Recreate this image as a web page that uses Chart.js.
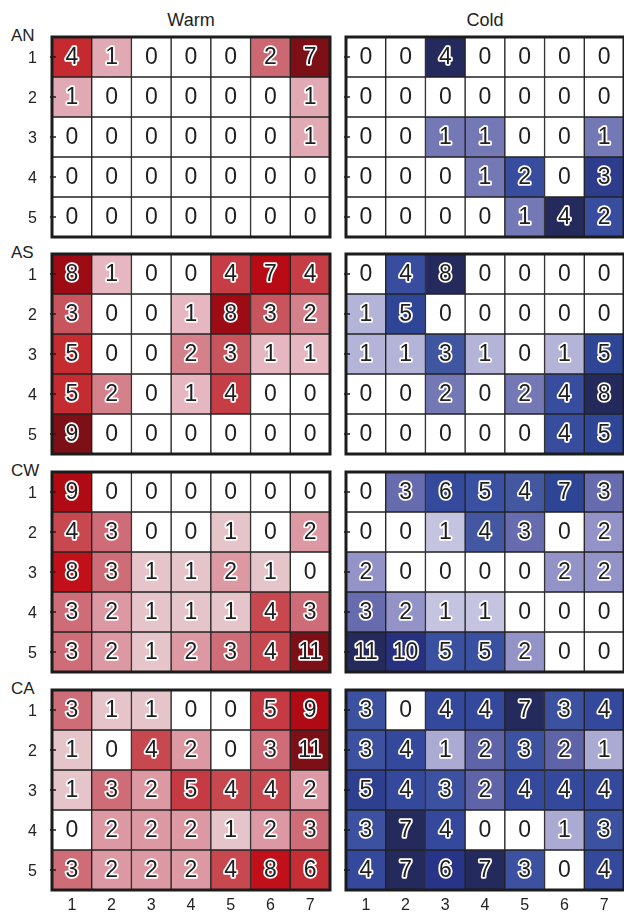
<!DOCTYPE html>
<html>
<head>
<meta charset="utf-8">
<script src="https://cdn.jsdelivr.net/npm/chart.js@4.4.0/dist/chart.umd.min.js"></script>
<style>
html, body { margin: 0; padding: 0; background: #fff; overflow: hidden; width: 624px; height: 913px; }
#page { position: relative; width: 624px; height: 913px; font-family: "Liberation Sans", Arial, sans-serif; color: #222; overflow: hidden; }
canvas { position: absolute; }
.lbl { position: absolute; font-size: 17px; line-height: 17px; white-space: nowrap; }
.ttl { font-size: 18px; }
</style>
</head>
<body>
<div id="page"></div>
<script>
// categories
const groups = ["AN", "AS", "CW", "CA"];
const seasons = ["Warm", "Cold"];
const colLabels = ["1", "2", "3", "4", "5", "6", "7"];
const rowLabels = ["1", "2", "3", "4", "5"];

// counts, one row per line
const anWarm = [
  [4, 1, 0, 0, 0, 2, 7],
  [1, 0, 0, 0, 0, 0, 1],
  [0, 0, 0, 0, 0, 0, 1],
  [0, 0, 0, 0, 0, 0, 0],
  [0, 0, 0, 0, 0, 0, 0]
];
const anCold = [
  [0, 0, 4, 0, 0, 0, 0],
  [0, 0, 0, 0, 0, 0, 0],
  [0, 0, 1, 1, 0, 0, 1],
  [0, 0, 0, 1, 2, 0, 3],
  [0, 0, 0, 0, 1, 4, 2]
];
const asWarm = [
  [8, 1, 0, 0, 4, 7, 4],
  [3, 0, 0, 1, 8, 3, 2],
  [5, 0, 0, 2, 3, 1, 1],
  [5, 2, 0, 1, 4, 0, 0],
  [9, 0, 0, 0, 0, 0, 0]
];
const asCold = [
  [0, 4, 8, 0, 0, 0, 0],
  [1, 5, 0, 0, 0, 0, 0],
  [1, 1, 3, 1, 0, 1, 5],
  [0, 0, 2, 0, 2, 4, 8],
  [0, 0, 0, 0, 0, 4, 5]
];
const cwWarm = [
  [9, 0, 0, 0, 0, 0, 0],
  [4, 3, 0, 0, 1, 0, 2],
  [8, 3, 1, 1, 2, 1, 0],
  [3, 2, 1, 1, 1, 4, 3],
  [3, 2, 1, 2, 3, 4, 11]
];
const cwCold = [
  [0, 3, 6, 5, 4, 7, 3],
  [0, 0, 1, 4, 3, 0, 2],
  [2, 0, 0, 0, 0, 2, 2],
  [3, 2, 1, 1, 0, 0, 0],
  [11, 10, 5, 5, 2, 0, 0]
];
const caWarm = [
  [3, 1, 1, 0, 0, 5, 9],
  [1, 0, 4, 2, 0, 3, 11],
  [1, 3, 2, 5, 4, 4, 2],
  [0, 2, 2, 2, 1, 2, 3],
  [3, 2, 2, 2, 4, 8, 6]
];
const caCold = [
  [3, 0, 4, 4, 7, 3, 4],
  [3, 4, 1, 2, 3, 2, 1],
  [5, 4, 3, 2, 4, 4, 4],
  [3, 7, 4, 0, 0, 1, 3],
  [4, 7, 6, 7, 3, 0, 4]
];

const panels = [[anWarm, anCold], [asWarm, asCold], [cwWarm, cwCold], [caWarm, caCold]];

// colour ramps (value / panel max -> colour)
const redStops = [
  [0.09, "#e6c6ca"], [0.11, "#e6b8c0"], [0.14, "#e0aab4"], [0.18, "#dc9aa4"],
  [0.22, "#d4828c"], [0.29, "#cc6670"], [0.33, "#c85560"], [0.36, "#c84850"],
  [0.45, "#c63c44"], [0.57, "#c42a30"], [0.75, "#c00c16"], [0.85, "#a80a14"],
  [1, "#7c1016"]
];
const blueStops = [
  [0.09, "#c4c4e0"], [0.125, "#b4b4d8"], [0.14, "#acacd4"], [0.18, "#9494c8"],
  [0.25, "#7478b4"], [0.29, "#5c62a8"], [0.375, "#4056a0"], [0.45, "#3a50a0"],
  [0.57, "#34489c"], [0.64, "#2e4494"], [0.75, "#2e3c8c"], [0.86, "#283488"],
  [0.91, "#283080"], [1, "#252a5c"]
];

const hexRgb = (h) => [1, 3, 5].map(i => parseInt(h.slice(i, i + 2), 16));

function cellColor(v, max, stops) {
  if (v <= 0) return "#ffffff";
  const t = v / max;
  if (t <= stops[0][0]) return stops[0][1];
  for (let i = 1; i < stops.length; i++) {
    if (t <= stops[i][0]) {
      const [t0, c0] = stops[i - 1], [t1, c1] = stops[i];
      const f = (t - t0) / (t1 - t0);
      const a = hexRgb(c0), b = hexRgb(c1);
      return "rgb(" + a.map((x, k) => Math.round(x + (b[k] - x) * f)).join(",") + ")";
    }
  }
  return stops[stops.length - 1][1];
}

const FONT = '"Liberation Sans", Arial, sans-serif';
Chart.defaults.font.family = FONT;
Chart.defaults.font.size = 16;
Chart.defaults.color = "#222";

// numbers inside the cells
const cellText = {
  id: "cellText",
  afterDatasetsDraw(chart) {
    const ctx = chart.ctx;
    ctx.save();
    ctx.font = "23px " + FONT;
    ctx.textAlign = "center";
    ctx.textBaseline = "middle";
    ctx.lineJoin = "round";
    chart.data.datasets.forEach((ds, di) => {
      chart.getDatasetMeta(di).data.forEach((bar, j) => {
        const v = ds.cellValues[j];
        const x = bar.x, y = (bar.y + bar.base) / 2 + 1;
        if (v > 0) {
          ctx.lineWidth = 3.5;
          ctx.strokeStyle = "#ffffff";
          ctx.strokeText(String(v), x, y);
        }
        ctx.fillStyle = "#1e1e1e";
        ctx.fillText(String(v), x, y);
      });
    });
    ctx.restore();
  }
};

// thick frame round each panel, with short inward ticks at the row centres
const frame = {
  id: "frame",
  afterDraw(chart) {
    const a = chart.chartArea, ctx = chart.ctx, ys = chart.scales.y;
    ctx.save();
    ctx.strokeStyle = "#1c1c1c";
    ctx.lineWidth = 1.5;
    rowLabels.forEach((l, i) => {
      const y = ys.getPixelForValue(i + 1);
      ctx.beginPath();
      ctx.moveTo(a.left - 2, y);
      ctx.lineTo(a.left + 4, y);
      ctx.stroke();
    });
    ctx.lineWidth = 3;
    ctx.strokeRect(a.left, a.top, a.right - a.left, a.bottom - a.top);
    ctx.restore();
  }
};

const page = document.getElementById("page");
const panelTop = [37, 254, 472, 690];
const panelLeft = [52, 346];
const panelW = 278;
const panelH = 200;
const pad = 4;
const yAxisW = 52;
const xAxisH = 23;

function addLabel(text, css, cls) {
  const d = document.createElement("div");
  d.className = "lbl" + (cls ? " " + cls : "");
  d.textContent = text;
  Object.assign(d.style, css);
  page.appendChild(d);
}

seasons.forEach((s, si) => {
  addLabel(s, { left: panelLeft[si] + "px", top: "12px", width: panelW + "px", textAlign: "center" }, "ttl");
});

groups.forEach((g, gi) => {
  addLabel(g, { left: "11px", top: (panelTop[gi] - 10) + "px" });

  seasons.forEach((s, si) => {
    const values = panels[gi][si];
    const stops = si === 0 ? redStops : blueStops;
    const max = Math.max(...values.flat());
    const isLeft = si === 0;
    const isBottom = gi === groups.length - 1;

    const cw = isLeft ? yAxisW + panelW + pad : panelW + 2 * pad;
    const ch = pad + panelH + (isBottom ? xAxisH : pad);
    const canvas = document.createElement("canvas");
    canvas.width = cw;
    canvas.height = ch;
    canvas.style.left = (isLeft ? 0 : panelLeft[1] - pad) + "px";
    canvas.style.top = (panelTop[gi] - pad) + "px";
    page.appendChild(canvas);

    const datasets = rowLabels.map((r, ri) => ({
      label: g + " " + s + " " + r,
      data: colLabels.map(() => [ri + 0.5, ri + 1.5]),
      cellValues: values[ri],
      backgroundColor: values[ri].map(v => cellColor(v, max, stops)),
      borderColor: "#232323",
      borderWidth: 1,
      borderSkipped: false,
      grouped: false,
      barPercentage: 1,
      categoryPercentage: 1
    }));

    new Chart(canvas.getContext("2d"), {
      type: "bar",
      data: { labels: colLabels, datasets },
      options: {
        responsive: false,
        animation: false,
        layout: { padding: { left: isLeft ? 0 : pad, right: pad, top: pad, bottom: isBottom ? 0 : pad } },
        plugins: { legend: { display: false }, tooltip: { enabled: false } },
        scales: {
          x: {
            display: isBottom,
            grid: { display: false, drawTicks: false },
            border: { display: false },
            ticks: { padding: 6, font: { size: 16, family: FONT } },
            afterFit: (sc) => {
              if (!isBottom) return;
              sc.height = xAxisH;
              sc.paddingLeft = 0;
              sc.paddingRight = 0;
            }
          },
          y: {
            display: isLeft,
            min: 0.5,
            max: 5.5,
            reverse: true,
            grid: { display: false, drawTicks: false },
            border: { display: false },
            afterBuildTicks: (sc) => { sc.ticks = rowLabels.map((l, i) => ({ value: i + 1 })); },
            ticks: {
              padding: 15,
              labelOffset: 2,
              font: { size: 16, family: FONT },
              callback: (v) => rowLabels[v - 1]
            },
            afterFit: (sc) => {
              if (!isLeft) return;
              sc.width = yAxisW;
              sc.paddingTop = 0;
              sc.paddingBottom = 0;
            }
          }
        }
      },
      plugins: [cellText, frame]
    });
  });
});
</script>
</body>
</html>
